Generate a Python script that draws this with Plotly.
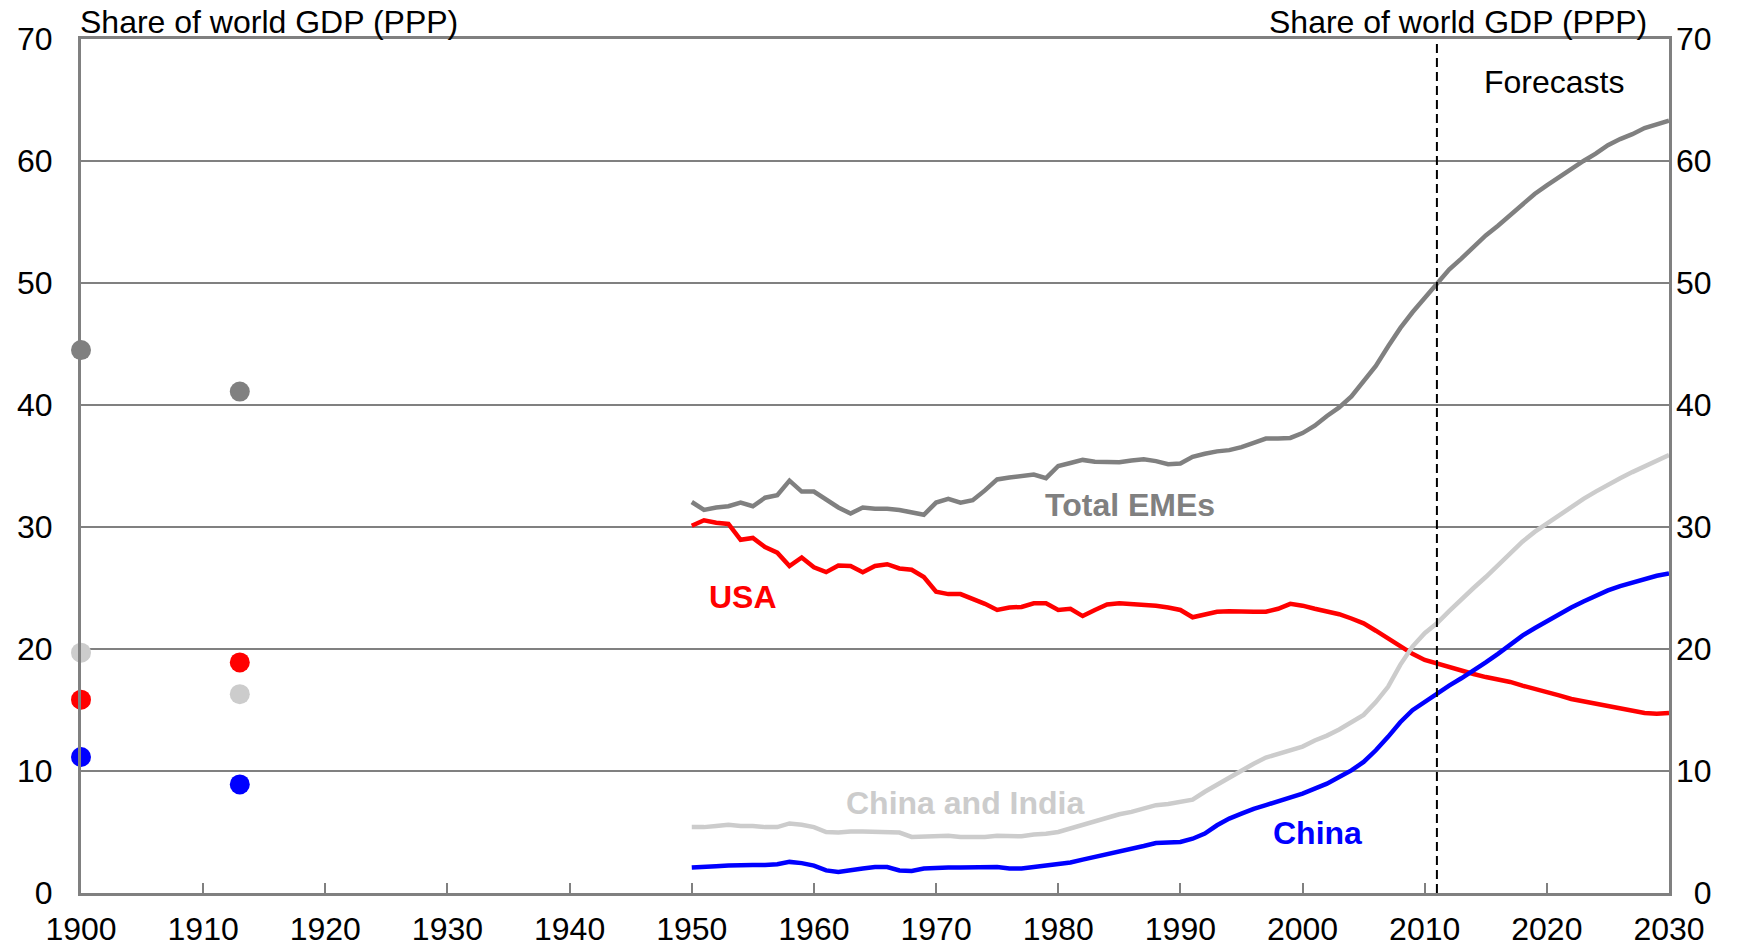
import plotly.graph_objects as go

# ---------------- data ----------------
years = list(range(1950, 2031))

total_emes = [32.05, 31.4, 31.6, 31.7, 32.0, 31.7, 32.4, 32.6, 33.8, 32.9,
              32.9, 32.2, 31.6, 31.1, 31.6, 31.5, 31.5, 31.4, 31.2, 31.0,
              32.0, 32.3, 32.0, 32.2, 33.0, 33.9, 34.05, 34.2, 34.3, 34.0,
              35.0, 35.25, 35.5, 35.35, 35.3, 35.3, 35.45, 35.55, 35.4, 35.15,
              35.2, 35.75, 36.0, 36.2, 36.3, 36.55, 36.9, 37.25, 37.25, 37.3,
              37.7, 38.3, 39.1, 39.8, 40.7, 41.9, 43.2, 44.8, 46.3, 47.6,
              48.8, 50.0, 51.1, 52.0, 53.0, 53.9, 54.7, 55.6, 56.5, 57.3,
              58.0, 58.7, 59.4, 60.0, 60.6, 61.3, 61.8, 62.2, 62.7, 63.0,
              63.3]

usa = [30.1, 30.55, 30.35, 30.25, 28.95, 29.1, 28.35, 27.9, 26.8, 27.5,
       26.7, 26.3, 26.85, 26.8, 26.3, 26.8, 26.95, 26.6, 26.5, 25.9,
       24.7, 24.5, 24.5, 24.1, 23.7, 23.2, 23.4, 23.45, 23.75, 23.75,
       23.2, 23.3, 22.7, 23.2, 23.65, 23.75, 23.7, 23.6, 23.55, 23.4,
       23.2, 22.6, 22.85, 23.05, 23.1, 23.05, 23.05, 23.05, 23.3, 23.7,
       23.55, 23.3, 23.1, 22.85, 22.5, 22.1, 21.5, 20.85, 20.2, 19.6,
       19.1, 18.8, 18.5, 18.2, 17.95, 17.7, 17.5, 17.3, 17.0, 16.75,
       16.5, 16.2, 15.9, 15.7, 15.5, 15.3, 15.1, 14.9, 14.75, 14.7,
       14.75]

china_india = [5.4, 5.4, 5.5, 5.6, 5.5, 5.5, 5.4, 5.4, 5.7, 5.6,
               5.4, 5.0, 4.95, 5.05, 5.05, 5.0, 5.0, 4.95, 4.6, 4.65,
               4.7, 4.7, 4.6, 4.6, 4.6, 4.7, 4.65, 4.65, 4.8, 4.85,
               5.0, 5.3, 5.55, 5.9, 6.2, 6.45, 6.65, 6.9, 7.2, 7.3,
               7.45, 7.65, 8.3, 8.9, 9.5, 10.05, 10.6, 11.1, 11.4, 11.7,
               12.0, 12.5, 12.9, 13.4, 14.0, 14.6, 15.65, 16.9, 18.7, 20.2,
               21.3, 22.1, 23.1, 24.1, 25.0, 25.9, 26.9, 27.9, 28.8, 29.6,
               30.3, 31.0, 31.7, 32.3, 32.9, 33.5, 34.0, 34.5, 35.0, 35.5,
               35.9]

china = [2.08, 2.1, 2.2, 2.25, 2.3, 2.3, 2.3, 2.35, 2.55, 2.45,
         2.25, 1.85, 1.72, 1.9, 2.0, 2.13, 2.13, 1.85, 1.8, 2.0,
         2.08, 2.08, 2.08, 2.08, 2.08, 2.13, 2.0, 2.0, 2.13, 2.27,
         2.4, 2.5, 2.74, 2.95, 3.17, 3.42, 3.64, 3.85, 4.1, 4.1,
         4.18, 4.45, 4.87, 5.55, 6.1, 6.5, 6.9, 7.2, 7.5, 7.8,
         8.15, 8.55, 8.96, 9.5, 10.05, 10.74, 11.7, 12.8, 14.0, 14.98,
         15.66, 16.4, 17.0, 17.6, 18.2, 18.9, 19.6, 20.4, 21.1, 21.7,
         22.3, 22.8, 23.4, 23.9, 24.4, 24.8, 25.15, 25.45, 25.75, 26.0,
         26.2]

# early benchmark years (dots)
early_years = [1900, 1913]
early_total_emes = [44.5, 41.1]
early_usa = [15.85, 18.9]
early_china_india = [19.7, 16.3]
early_china = [11.15, 8.9]

forecast_start = 2011
x_ticks = list(range(1900, 2031, 10))
y_ticks = list(range(0, 71, 10))

# ---------------- style ----------------
GRAY = "#808080"
RED = "#FF0000"
LIGHT = "#CCCCCC"
BLUE = "#0000FF"
FONT = "Liberation Sans, Arial, sans-serif"
FS = 32

fig = go.Figure()

series = [
    ("Total EMEs", total_emes, early_total_emes, GRAY),
    ("USA", usa, early_usa, RED),
    ("China and India", china_india, early_china_india, LIGHT),
    ("China", china, early_china, BLUE),
]

for name, vals, early, col in series:
    fig.add_trace(go.Scatter(x=years, y=vals, mode="lines", name=name,
                             line=dict(color=col, width=4.5), showlegend=False,
                             hoverinfo="skip"))
for name, vals, early, col in series:
    fig.add_trace(go.Scatter(x=early_years, y=early, mode="markers", name=name,
                             marker=dict(color=col, size=20), showlegend=False,
                             cliponaxis=False, hoverinfo="skip"))

# forecast divider (on secondary axis so it renders)
fig.add_trace(go.Scatter(x=[forecast_start, forecast_start], y=[0, 70],
                         mode="lines", yaxis="y2", showlegend=False,
                         line=dict(color="black", width=2, dash="9px,5px"),
                         hoverinfo="skip"))

fig.update_layout(
    width=1742, height=946,
    margin=dict(l=81, r=73, t=39, b=53, autoexpand=False),
    paper_bgcolor="white", plot_bgcolor="white",
    font=dict(family=FONT, size=FS, color="black"),
    xaxis=dict(range=[1900, 2030], tickvals=x_ticks, ticktext=[str(t) for t in x_ticks],
               showgrid=False, zeroline=False, automargin=False,
               showline=True, linecolor=GRAY, linewidth=3, mirror=True,
               ticks="inside", ticklen=10, tickwidth=2, tickcolor=GRAY,
               ticklabelstandoff=6,
               tickfont=dict(family=FONT, size=FS, color="black")),
    yaxis=dict(range=[0, 70], tickvals=y_ticks, ticktext=[str(t) for t in y_ticks],
               showgrid=True, gridcolor=GRAY, gridwidth=2, zeroline=False,
               showline=True, linecolor=GRAY, linewidth=3, mirror=True,
               ticks="", ticklabelstandoff=19, automargin=False,
               tickfont=dict(family=FONT, size=FS, color="black")),
    yaxis2=dict(range=[0, 70], overlaying="y", side="right",
                tickvals=y_ticks,
                ticktext=[("\u2007" + str(t)) if t < 10 else str(t) for t in y_ticks],
                showgrid=False, zeroline=False, showline=False, ticks="",
                ticklabelstandoff=6, automargin=False,
                tickfont=dict(family=FONT, size=FS, color="black")),
)

ann = [
    dict(text="Share of world GDP (PPP)", xref="paper", yref="paper",
         x=-0.002, y=1.0196, xanchor="left", yanchor="middle",
         font=dict(size=FS, color="black")),
    dict(text="Share of world GDP (PPP)", xref="paper", yref="paper",
         x=0.9874, y=1.0196, xanchor="right", yanchor="middle",
         font=dict(size=FS, color="black")),
    dict(text="Forecasts", xref="paper", yref="paper",
         x=0.9276, y=0.9499, xanchor="center", yanchor="middle",
         font=dict(size=FS, color="black")),
    dict(text="<b>Total EMEs</b>", xref="x", yref="y", x=1985.9, y=31.78,
         xanchor="center", yanchor="middle", font=dict(size=FS, color=GRAY)),
    dict(text="<b>USA</b>", xref="x", yref="y", x=1954.2, y=24.28,
         xanchor="center", yanchor="middle", font=dict(size=FS, color=RED)),
    dict(text="<b>China and India</b>", xref="x", yref="y", x=1972.4, y=7.35,
         xanchor="center", yanchor="middle", font=dict(size=FS, color=LIGHT)),
    dict(text="<b>China</b>", xref="x", yref="y", x=2001.2, y=4.89,
         xanchor="center", yanchor="middle", font=dict(size=FS, color=BLUE)),
]
for a in ann:
    a["showarrow"] = False
    fig.add_annotation(**a)

fig.write_html(
    "out.html",
    config={"displayModeBar": False},
    post_script="document.body.style.margin='0';document.body.style.overflow='hidden';",
)
